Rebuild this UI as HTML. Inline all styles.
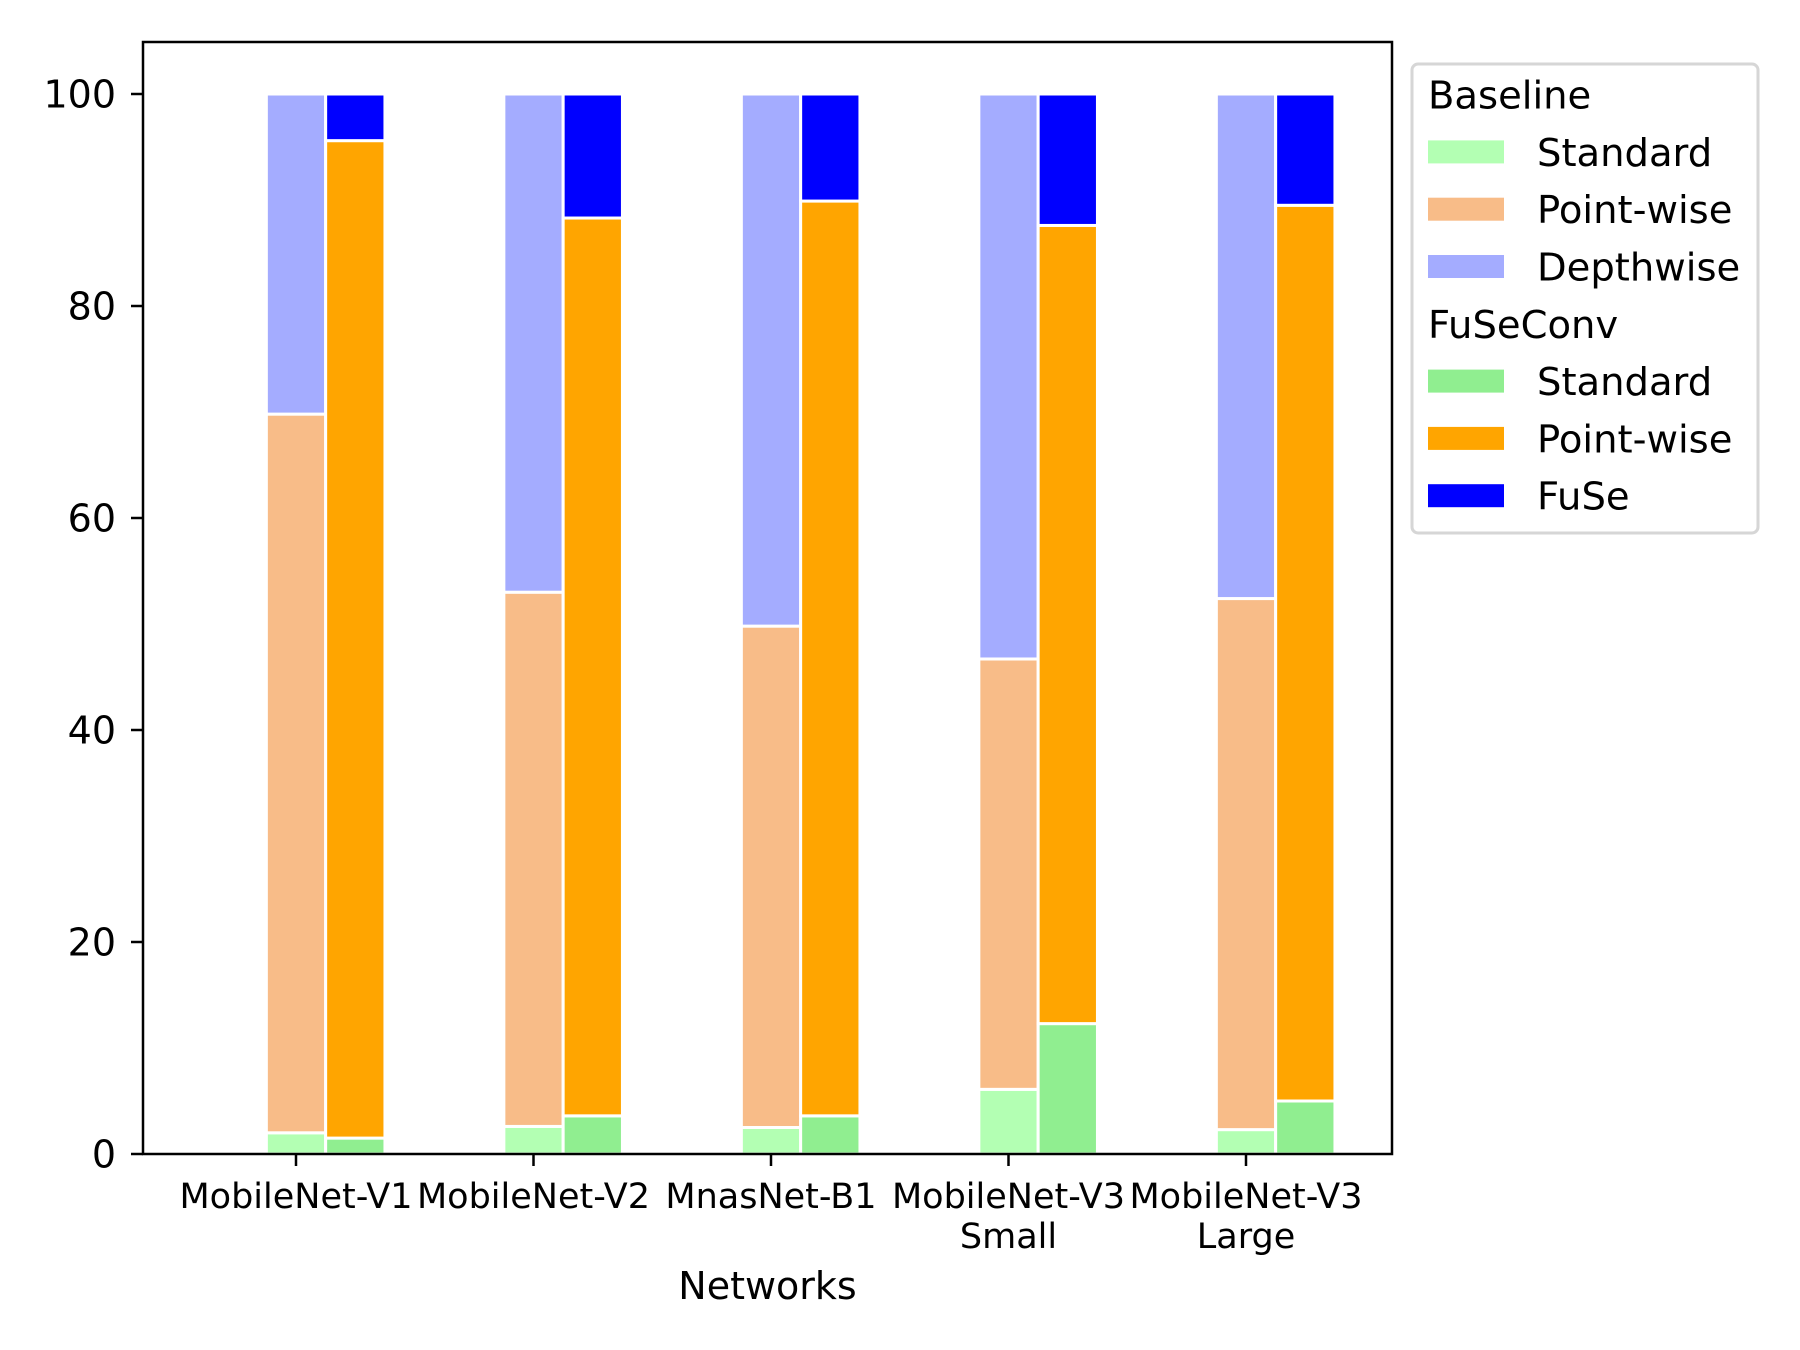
<!DOCTYPE html>
<html><head><meta charset="utf-8">
<style>
html,body{margin:0;padding:0;background:#fff;}
svg{display:block;font-family:"DejaVu Sans","Liberation Sans",sans-serif;}
</style></head>
<body>
<svg id="chart" width="1800" height="1350" viewBox="0 0 1800 1350" xmlns="http://www.w3.org/2000/svg">
<rect x="0" y="0" width="1800" height="1350" fill="#fff"/>
<g id="bars"></g>
<g id="axes"></g>
<g id="legend"></g>
</svg>
<script>
const categories = ["MobileNet-V1", "MobileNet-V2", "MnasNet-B1", "MobileNet-V3|Small", "MobileNet-V3|Large"];
const baseStandard = [2.0, 2.6, 2.5, 6.1, 2.3];
const basePointwise = [67.8, 50.4, 47.3, 40.6, 50.1];
const baseDepthwise = [30.2, 47.0, 50.2, 53.3, 47.6];
const fuseStandard = [1.5, 3.6, 3.6, 12.3, 5.0];
const fusePointwise = [94.1, 84.7, 86.3, 75.3, 84.5];
const fuseFuse = [4.4, 11.7, 10.1, 12.4, 10.5];
const yTicks = [0, 20, 40, 60, 80, 100];

const NS = "http://www.w3.org/2000/svg";
const AX = {left:143, right:1392, top:42, bottom:1154};
function yScale(v){ return 1154 - v * 10.6; }
function xScale(i){ return 296 + i * 237.5; }
const BW = 59.3;

function mk(tag, attrs, parent){
  const e = document.createElementNS(NS, tag);
  for (const k in attrs) e.setAttribute(k, attrs[k]);
  parent.appendChild(e);
  return e;
}
const bars = document.getElementById('bars');
const axes = document.getElementById('axes');
const legend = document.getElementById('legend');

const baseSeries = [[baseStandard,"#b3ffb3","baseline-standard"],[basePointwise,"#f8bc88","baseline-pointwise"],[baseDepthwise,"#a4acff","baseline-depthwise"]];
const fuseSeries = [[fuseStandard,"#90ee90","fuseconv-standard"],[fusePointwise,"#ffa500","fuseconv-pointwise"],[fuseFuse,"#0000ff","fuseconv-fuse"]];

categories.forEach((c, i) => {
  [[baseSeries, 0], [fuseSeries, BW]].forEach(([series, off]) => {
    let acc = 0;
    series.forEach(([vals, col, nm]) => {
      const v = vals[i];
      const y1 = yScale(acc + v), y0 = yScale(acc);
      const r = mk('rect', {x: xScale(i) - BW/2 + off, y: y1, width: BW, height: y0 - y1, fill: col, stroke: '#fff', 'stroke-width': 3}, bars);
      
      
      acc += v;
    });
  });
});

const frame = mk('rect', {x: AX.left, y: AX.top, width: AX.right - AX.left, height: AX.bottom - AX.top, fill: 'none', stroke: '#000', 'stroke-width': 2.5}, axes);



yTicks.forEach(t => {
  const y = yScale(t);
  const l = mk('line', {x1: AX.left - 12, x2: AX.left, y1: y, y2: y, stroke: '#000', 'stroke-width': 2.5}, axes);
  
  
  const tx = mk('text', {x: 116, y: y + 13.5, 'text-anchor': 'end', 'font-size': 38, fill: '#000'}, axes);
  tx.textContent = String(t);
  
  
});

categories.forEach((c, i) => {
  const x = xScale(i);
  const l = mk('line', {x1: x, x2: x, y1: AX.bottom, y2: AX.bottom + 12, stroke: '#000', 'stroke-width': 2.5}, axes);
  
  
  c.split('|').forEach((part, k) => {
    const tx = mk('text', {x: x, y: 1208 + k * 40, 'text-anchor': 'middle', 'font-size': 35, fill: '#000'}, axes);
    tx.textContent = part;
    
    
  });
});

const xt = mk('text', {x: (AX.left + AX.right)/2, y: 1299, 'text-anchor': 'middle', 'font-size': 38, fill: '#000'}, axes);
xt.textContent = 'Networks';



const box = mk('rect', {x: 1412, y: 64, width: 346, height: 469, rx: 6, fill: '#fff', stroke: '#d6d6d6', 'stroke-width': 3}, legend);


const rows = [
  ['title','Baseline',null],
  ['entry','Standard','#b3ffb3'],
  ['entry','Point-wise','#f8bc88'],
  ['entry','Depthwise','#a4acff'],
  ['title','FuSeConv',null],
  ['entry','Standard','#90ee90'],
  ['entry','Point-wise','#ffa500'],
  ['entry','FuSe','#0000ff']
];
rows.forEach(([kind, label, col], k) => {
  const cy = 94.6 + k * 57.3;
  if (kind === 'title') {
    const t = mk('text', {x: 1428, y: cy + 14, 'font-size': 38.5, fill: '#000'}, legend);
    t.textContent = label;
    
    
  } else {
    const p = mk('rect', {x: 1428, y: cy - 11.5, width: 76, height: 23, fill: col}, legend);
    
    
    const t = mk('text', {x: 1537, y: cy + 14, 'font-size': 38.5, fill: '#000'}, legend);
    t.textContent = label;
    
    
  }
});
</script>
</body></html>
